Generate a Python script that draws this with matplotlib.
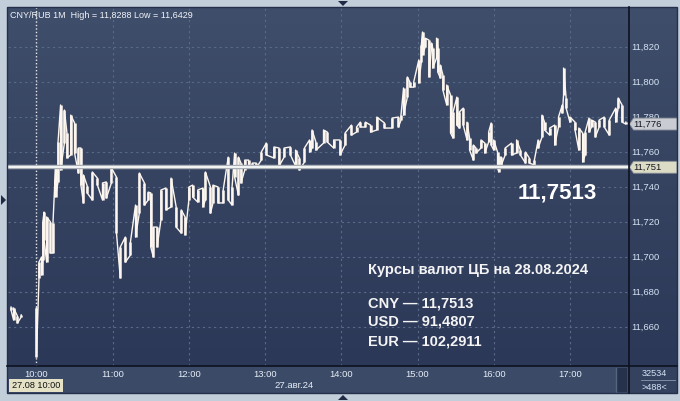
import numpy as np
import matplotlib
matplotlib.use("Agg")
import matplotlib.pyplot as plt
from matplotlib.patches import Polygon, Rectangle
from matplotlib.colors import LinearSegmentedColormap

# ---------------- data ----------------
times = ["09:40", "09:42", "09:45", "09:48",
         "10:00", "10:02", "10:04", "10:05", "10:06", "10:08", "10:11", "10:13", "10:15", "10:17",
         "10:19", "10:22", "10:24", "10:27", "10:30", "10:33", "10:35", "10:37", "10:40", "10:44",
         "10:48", "10:52", "10:55", "10:59", "11:03", "11:06", "11:10", "11:14", "11:18", "11:21",
         "11:25", "11:28", "11:30", "11:32", "11:35", "11:38", "11:42", "11:46", "11:50", "11:54",
         "11:57", "12:00", "12:03", "12:07", "12:11", "12:13", "12:17", "12:19", "12:23", "12:27",
         "12:31", "12:34", "12:36", "12:39", "12:41", "12:44", "12:47", "12:50", "12:53", "12:57",
         "13:01", "13:07", "13:11", "13:15", "13:20", "13:24", "13:27", "13:31", "13:35", "13:37",
         "13:40", "13:46", "13:49", "13:54", "13:59", "14:03", "14:08", "14:12", "14:15", "14:19",
         "14:23", "14:28", "14:34", "14:40", "14:45", "14:47", "14:49", "14:52", "14:54", "14:57",
         "15:01", "15:03", "15:04", "15:06", "15:09", "15:11", "15:12", "15:15", "15:16", "15:18",
         "15:20", "15:23", "15:26", "15:28", "15:31", "15:33", "15:36", "15:39", "15:41", "15:44",
         "15:46", "15:50", "15:53", "15:56", "15:58", "16:00", "16:03", "16:04", "16:06", "16:09",
         "16:14", "16:18", "16:21", "16:25", "16:28", "16:32", "16:35", "16:38", "16:40", "16:44",
         "16:48", "16:51", "16:54", "16:55", "16:57", "17:00", "17:04", "17:07", "17:10", "17:12",
         "17:15", "17:17", "17:20", "17:23", "17:27", "17:31", "17:36", "17:38", "17:41", "17:44"]

highs = [11.6714, 11.6709, 11.6663, 11.6669,
         11.6709, 11.6971, 11.7000, 11.7200, 11.7257, 11.7229, 11.7200, 11.7194, 11.7509, 11.7657,
         11.7869, 11.7840, 11.7709, 11.7811, 11.7766, 11.7623, 11.7623, 11.7469, 11.7406, 11.7486,
         11.7451, 11.7423, 11.7429, 11.7509, 11.7457, 11.7057, 11.7114, 11.7086, 11.7297, 11.7480,
         11.7423, 11.7371, 11.7366, 11.7171, 11.7171, 11.7383, 11.7394, 11.7451, 11.7286, 11.7269,
         11.7229, 11.7400, 11.7411, 11.7383, 11.7394, 11.7486, 11.7400, 11.7411, 11.7400, 11.7383,
         11.7571, 11.7400, 11.7594, 11.7571, 11.7537, 11.7554, 11.7554, 11.7537, 11.7537, 11.7600,
         11.7651, 11.7629, 11.7623, 11.7623, 11.7629, 11.7611, 11.7566, 11.7623, 11.7669, 11.7726,
         11.7657, 11.7726, 11.7714, 11.7669, 11.7669, 11.7709, 11.7754, 11.7743, 11.7771, 11.7771,
         11.7754, 11.7800, 11.7766, 11.7794, 11.7800, 11.7811, 11.7966, 11.8029, 11.8000, 11.8000,
         11.8126, 11.8211, 11.8286, 11.8251, 11.8240, 11.8223, 11.8194, 11.8251, 11.8194, 11.8097,
         11.8040, 11.7983, 11.7926, 11.7829, 11.7914, 11.7829, 11.7851, 11.7771, 11.7680, 11.7640,
         11.7623, 11.7669, 11.7651, 11.7714, 11.7766, 11.7669, 11.7600, 11.7571, 11.7571, 11.7623,
         11.7651, 11.7669, 11.7611, 11.7600, 11.7566, 11.7554, 11.7669, 11.7811, 11.7771, 11.7737,
         11.7754, 11.7800, 11.7869, 11.8080, 11.7909, 11.7800, 11.7771, 11.7737, 11.7709, 11.7714,
         11.7794, 11.7783, 11.7771, 11.7783, 11.7800, 11.7783, 11.7851, 11.7909, 11.7869, 11.7771]

lows = [11.6697, 11.6640, 11.6623, 11.6657,
        11.6429, 11.6880, 11.6897, 11.6983, 11.7097, 11.6971, 11.7023, 11.7023, 11.7343, 11.7429,
        11.7497, 11.7651, 11.7566, 11.7583, 11.7594, 11.7480, 11.7411, 11.7309, 11.7366, 11.7326,
        11.7411, 11.7326, 11.7337, 11.7423, 11.7137, 11.6880, 11.6971, 11.7011, 11.7114, 11.7251,
        11.7297, 11.7326, 11.7057, 11.7000, 11.7057, 11.7211, 11.7269, 11.7286, 11.7171, 11.7137,
        11.7126, 11.7326, 11.7343, 11.7314, 11.7286, 11.7326, 11.7251, 11.7309, 11.7309, 11.7309,
        11.7326, 11.7297, 11.7457, 11.7354, 11.7423, 11.7497, 11.7509, 11.7509, 11.7509, 11.7554,
        11.7583, 11.7566, 11.7520, 11.7571, 11.7583, 11.7520, 11.7497, 11.7543, 11.7600, 11.7623,
        11.7611, 11.7651, 11.7657, 11.7623, 11.7583, 11.7640, 11.7697, 11.7714, 11.7743, 11.7743,
        11.7714, 11.7726, 11.7737, 11.7737, 11.7743, 11.7783, 11.7811, 11.7914, 11.7971, 11.7971,
        11.7994, 11.8114, 11.8154, 11.8200, 11.8029, 11.8194, 11.8080, 11.8137, 11.8057, 11.8023,
        11.7954, 11.7869, 11.7709, 11.7680, 11.7754, 11.7737, 11.7754, 11.7669, 11.7611, 11.7554,
        11.7594, 11.7623, 11.7594, 11.7657, 11.7640, 11.7611, 11.7509, 11.7486, 11.7526, 11.7583,
        11.7583, 11.7594, 11.7583, 11.7537, 11.7537, 11.7526, 11.7623, 11.7686, 11.7726, 11.7697,
        11.7640, 11.7743, 11.7823, 11.7926, 11.7851, 11.7771, 11.7726, 11.7611, 11.7543, 11.7583,
        11.7714, 11.7743, 11.7686, 11.7743, 11.7743, 11.7697, 11.7771, 11.7851, 11.7771, 11.7760]

y_ticks = [11.660, 11.680, 11.700, 11.720, 11.740, 11.760, 11.780, 11.800, 11.820]
hour_labels = ["10:00", "11:00", "12:00", "13:00", "14:00", "15:00", "16:00", "17:00"]
cb_rate = 11.7513
last_price = 11.776
high_txt, low_txt = "11,8288", "11,6429"
rates_title = "Курсы валют ЦБ на 28.08.2024"
rates = [("CNY", "11,7513"), ("USD", "91,4807"), ("EUR", "102,2911")]
date_label = "27.авг.24"
cursor_label = "27.08 10:00"
vol_top, vol_bot = "32534", ">488<"

# ---------------- layout ----------------
W, H = 680, 401
plt.rcParams["font.family"] = ["Liberation Sans", "DejaVu Sans"]
fig = plt.figure(figsize=(W / 100, H / 100), dpi=100)
fig.patch.set_facecolor("#c3cedb")

def px_axes(x0, y0, x1, y1, z):
    a = fig.add_axes([x0 / W, 1 - y1 / H, (x1 - x0) / W, (y1 - y0) / H])
    a.set_zorder(z)
    a.patch.set_alpha(0)
    return a

def to_min(s):
    h, m = s.split(":")
    return (int(h) - 10) * 60 + int(m)

tm = np.array([to_min(s) for s in times], dtype=float)
hi = np.array(highs)
lo = np.array(lows)

XL = (-22.4, 466.5)
YL = (11.6377, 11.8429)

# background layer (pixel coordinates)
bg = px_axes(0, 0, W, H, 0)
bg.set_xlim(0, W); bg.set_ylim(H, 0); bg.axis("off")
grad = np.linspace(0, 1, 256)[:, None]
cm = LinearSegmentedColormap.from_list("g", ["#3f4e6b", "#2b3857"])
bg.imshow(grad, cmap=cm, extent=(7, 677, 366, 7), aspect="auto", zorder=1)
bg.add_patch(Rectangle((7, 366), 670, 27, facecolor="#3b4a67", edgecolor="none", zorder=2))
bg.add_patch(Rectangle((629, 366), 48, 27, facecolor="#34425f", edgecolor="none", zorder=2))
bg.add_patch(Rectangle((617, 368), 10, 24, facecolor="#26324c", edgecolor="none", zorder=3))
bg.plot([616, 616], [368, 392], color="#56657f", lw=1, zorder=3)
tri_c = "#1f2b45"
bg.add_patch(Polygon([[338, 1], [348, 1], [343, 6]], closed=True, facecolor=tri_c, zorder=4))
bg.add_patch(Polygon([[338, 400], [348, 400], [343, 395]], closed=True, facecolor=tri_c, zorder=4))
bg.add_patch(Polygon([[1, 195], [1, 205], [6, 200]], closed=True, facecolor=tri_c, zorder=4))

# main chart
ax = px_axes(8, 7, 629, 366, 2)
ax.set_xlim(*XL); ax.set_ylim(*YL); ax.axis("off")
gc = "#5b6a88"
for v in y_ticks:
    ax.axhline(v, color=gc, lw=0.8, ls=(0, (2, 3)), zorder=1)
for i in range(1, len(hour_labels)):
    ax.axvline(i * 60, color=gc, lw=0.8, ls=(0, (2, 3)), zorder=1)
ax.axvline(0, color="#e8e8e8", lw=1, ls=(0, (1, 1.5)), zorder=2)

bar_c = "#fdf6ef"
ax.vlines(tm, lo, hi, color=bar_c, lw=1.8, zorder=3)
# continuous high/low trace between the bars (split at the pre-session gap)
breaks = np.where(np.diff(tm) > 6)[0] + 1
for seg in np.split(np.arange(len(tm)), breaks):
    xs, ys = [], []
    for k, i in enumerate(seg):
        a, b = (hi[i], lo[i]) if k % 2 == 0 else (lo[i], hi[i])
        xs += [tm[i], tm[i]]; ys += [a, b]
    ax.plot(xs, ys, color=bar_c, lw=1.0, zorder=3)

ax.axhline(cb_rate, color="#a9aeb6", lw=3.2, zorder=4)
ax.axhline(cb_rate, color="#f4f4f4", lw=1.4, zorder=5)

# right price axis
axr = px_axes(629, 7, 677, 366, 2)
axr.set_xlim(0, 48); axr.set_ylim(*YL); axr.axis("off")
for v in y_ticks:
    axr.text(2, v, f"{v:.3f}".replace(".", ","), color="#d7e3f4", fontsize=6.8,
             va="center", ha="left", zorder=2)

def tag(v, txt, fc):
    h = 0.0034
    poly = Polygon([[0.5, v], [4.5, v + h], [48, v + h], [48, v - h], [4.5, v - h]],
                   closed=True, facecolor=fc, edgecolor="#8a8f98", lw=0.6, zorder=5)
    axr.add_patch(poly)
    axr.text(4.0, v, txt, color="#15181f", fontsize=6.8, va="center", ha="left", zorder=6)

tag(last_price, f"{last_price:.3f}".replace(".", ","), "#c9cdd3")
tag(cb_rate, f"{cb_rate:.3f}".replace(".", ","), "#dcdcc6")

# bottom time axis
axb = px_axes(8, 366, 629, 393, 2)
axb.set_xlim(*XL); axb.set_ylim(27, 0); axb.axis("off")
for i, lab in enumerate(hour_labels):
    axb.text(i * 60, 8.5, lab, color="#e6edf7", fontsize=6.8, ha="center", va="center")
axb.text(3.5 * 60 - 7, 19.5, date_label, color="#e6edf7", fontsize=6.8, ha="center", va="center")

# foreground decorations (pixel coordinates)
fg = px_axes(0, 0, W, H, 3)
fg.set_xlim(0, W); fg.set_ylim(H, 0); fg.axis("off")
fg.plot([629, 629], [7, 393], color="#0d1220", lw=1.2)
fg.plot([7, 677], [366, 366], color="#0d1220", lw=1.2)
fg.add_patch(Rectangle((7, 7), 670, 386, fill=False, edgecolor="#24304a", lw=1))
fg.add_patch(Rectangle((9, 379), 54, 13, facecolor="#e4e1c6", edgecolor="none"))
fg.text(36, 385.5, cursor_label, color="#111", fontsize=6.6, ha="center", va="center")
fg.text(654, 374, vol_top, color="#d7e3f4", fontsize=6.6, ha="center", va="center")
fg.plot([641, 675], [380, 380], color="#8c9ab0", lw=0.6)
fg.text(654, 387, vol_bot, color="#d7e3f4", fontsize=6.6, ha="center", va="center")

fg.text(10, 16, f"CNY/RUB 1M  High = {high_txt} Low = {low_txt}", color="#f2f4f8",
        fontsize=6.5, ha="left", va="center")
fg.text(557, 193, f"{cb_rate:.4f}".replace(".", ","), color="#ffffff", fontsize=16,
        fontweight="bold", ha="center", va="center")
fg.text(368, 270, rates_title, color="#f4f4f4", fontsize=10.5, fontweight="bold",
        ha="left", va="center")
for k, (cur, val) in enumerate(rates):
    fg.text(368, 303 + k * 19, f"{cur} \u2014 {val}", color="#f4f4f4", fontsize=10.5,
            fontweight="bold", ha="left", va="center")

fig.savefig("out.png", dpi=100, facecolor=fig.get_facecolor())
